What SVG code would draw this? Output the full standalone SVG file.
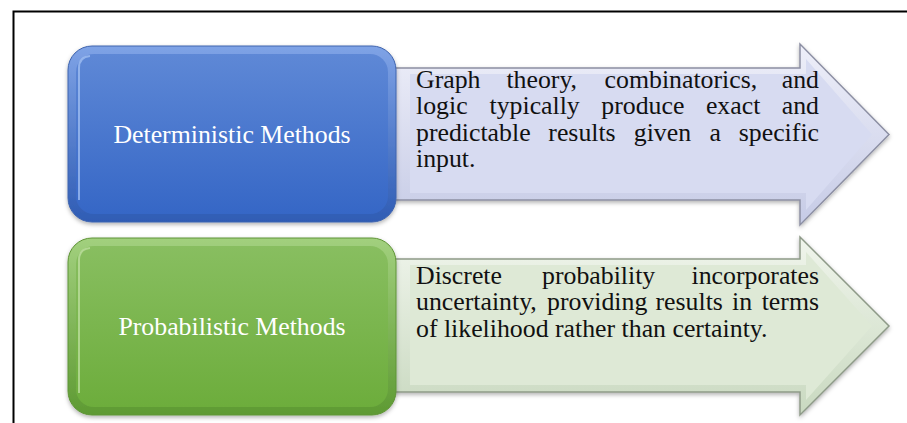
<svg xmlns="http://www.w3.org/2000/svg" width="907" height="423" viewBox="0 0 907 423">
<style>
  .frame{fill:none;stroke:#000;stroke-width:2}
  .box-text{font-family:"Liberation Serif","Times New Roman",serif;font-size:25.8px;fill:#fff;text-anchor:middle}
  .body-text{font-family:"Liberation Serif","Times New Roman",serif;font-size:25.8px;fill:#111}
</style>
<defs>
  <linearGradient id="blueGrad" x1="0" y1="0" x2="0" y2="1">
    <stop offset="0" stop-color="#5E88D6"/>
    <stop offset="1" stop-color="#3667C6"/>
  </linearGradient>
  <linearGradient id="blueRim" x1="0" y1="0" x2="0" y2="1">
    <stop offset="0" stop-color="#7FA3E6"/>
    <stop offset="1" stop-color="#2F5CB4"/>
  </linearGradient>
  <linearGradient id="greenGrad" x1="0" y1="0" x2="0" y2="1">
    <stop offset="0" stop-color="#88BE60"/>
    <stop offset="1" stop-color="#6DAD3C"/>
  </linearGradient>
  <linearGradient id="greenRim" x1="0" y1="0" x2="0" y2="1">
    <stop offset="0" stop-color="#A2D07E"/>
    <stop offset="1" stop-color="#5E9A33"/>
  </linearGradient>
  <linearGradient id="lavBevel" x1="0" y1="0" x2="0" y2="1">
    <stop offset="0" stop-color="#EEEFF9"/>
    <stop offset="1" stop-color="#C6CBE6"/>
  </linearGradient>
  <linearGradient id="greenBevel" x1="0" y1="0" x2="0" y2="1">
    <stop offset="0" stop-color="#F0F5EC"/>
    <stop offset="1" stop-color="#C9D9C0"/>
  </linearGradient>
  <filter id="shadow" x="-10%" y="-10%" width="120%" height="130%">
    <feDropShadow dx="0" dy="2" stdDeviation="2" flood-color="#000" flood-opacity="0.3"/>
  </filter>
</defs>

<path class="frame" d="M13.5,423 V11.5 H907"/>

<g id="arrow-deterministic">
  <polygon points="390,68 800,68 800,44 889,134.5 800,225 800,200 390,200" fill="url(#lavBevel)" stroke="#8C8FA3" stroke-width="1.5" filter="url(#shadow)"/>
  <polygon points="410,74 806,74 806,59 872,134.5 806,210 806,193 410,193" fill="#D7DBF1"/>
  <text class="body-text" y="87.5"><tspan x="416">Graph</tspan><tspan x="506.4">theory,</tspan><tspan x="604.6">combinatorics,</tspan><tspan x="819" text-anchor="end">and</tspan></text>
  <text class="body-text" y="114"><tspan x="416">logic</tspan><tspan x="489.5">typically</tspan><tspan x="601.3">produce</tspan><tspan x="705.9">exact</tspan><tspan x="819" text-anchor="end">and</tspan></text>
  <text class="body-text" y="140.5"><tspan x="416">predictable</tspan><tspan x="548.3">results</tspan><tspan x="633.8">given</tspan><tspan x="709.5">a</tspan><tspan x="819" text-anchor="end">specific</tspan></text>
  <text class="body-text" x="416" y="167">input.</text>
</g>

<g id="arrow-probabilistic">
  <polygon points="390,259 800,259 800,237 889,326 800,415 800,392 390,392" fill="url(#greenBevel)" stroke="#8E9A88" stroke-width="1.5" filter="url(#shadow)"/>
  <polygon points="410,265 806,265 806,252 872,326 806,400 806,385 410,385" fill="#DEE9D6"/>
  <text class="body-text" y="283.5"><tspan x="416">Discrete</tspan><tspan x="542">probability</tspan><tspan x="819" text-anchor="end">incorporates</tspan></text>
  <text class="body-text" y="310"><tspan x="416">uncertainty,</tspan><tspan x="547">providing</tspan><tspan x="655.5">results</tspan><tspan x="732">in</tspan><tspan x="819" text-anchor="end">terms</tspan></text>
  <text class="body-text" x="416" y="336.5">of likelihood rather than certainty.</text>
</g>

<g id="node-deterministic">
  <rect x="68" y="46" width="328" height="176" rx="24" fill="url(#blueRim)" stroke="#3F64AE" stroke-width="1" filter="url(#shadow)"/>
  <rect x="76" y="54" width="312" height="160" rx="18" fill="url(#blueGrad)"/>
  <path d="M79,200 V68 Q79,57 90,56" fill="none" stroke="#A9C6F5" stroke-width="2" opacity="0.7"/>
  <text class="box-text" x="232" y="142.5">Deterministic Methods</text>
</g>

<g id="node-probabilistic">
  <rect x="68" y="238" width="328" height="177" rx="24" fill="url(#greenRim)" stroke="#5F9436" stroke-width="1" filter="url(#shadow)"/>
  <rect x="76" y="246" width="312" height="161" rx="18" fill="url(#greenGrad)"/>
  <path d="M79,393 V260 Q79,249 90,248" fill="none" stroke="#C4E3A8" stroke-width="2" opacity="0.7"/>
  <text class="box-text" x="232" y="335">Probabilistic Methods</text>
</g>
</svg>
